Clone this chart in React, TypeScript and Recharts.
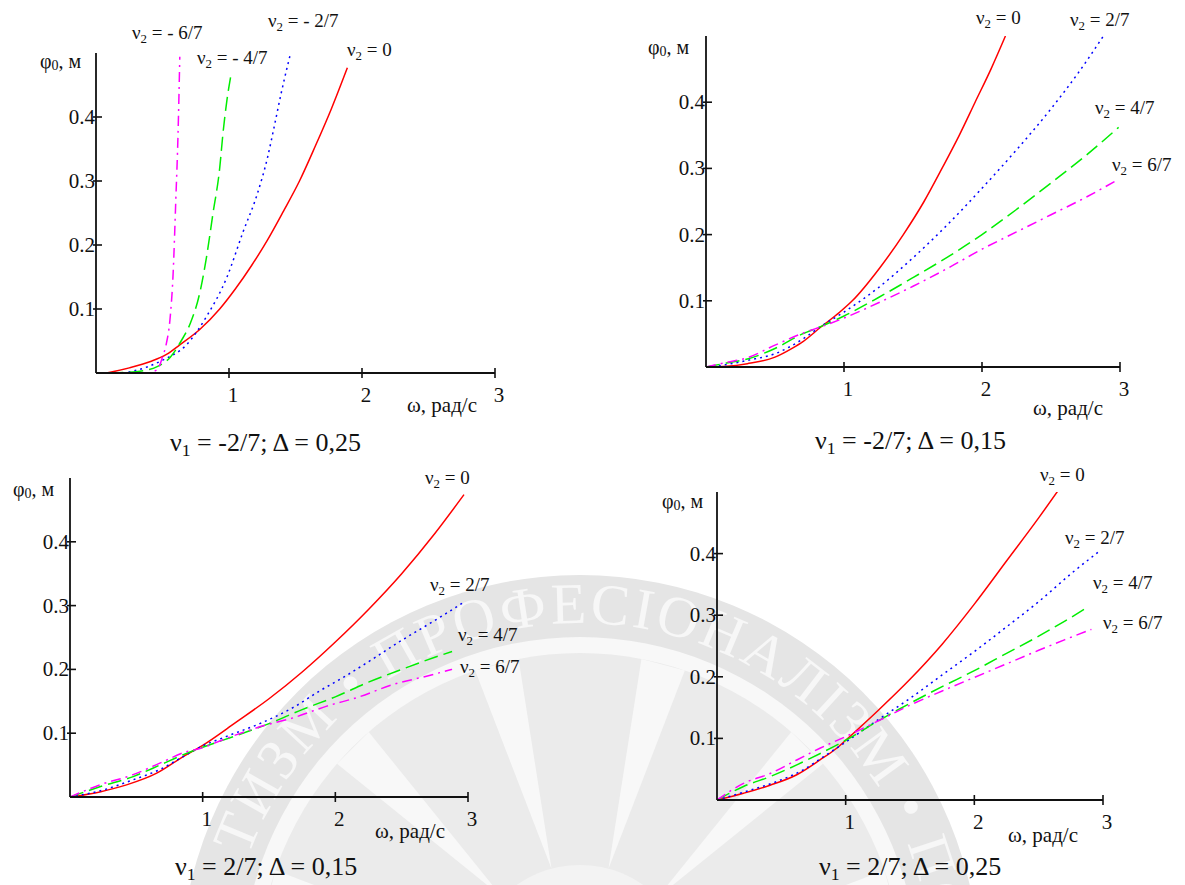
import { LineChart, Line, XAxis, YAxis } from 'recharts'

// each curve is a list of [ω, φ0] pairs

// ν1 = -2/7; Δ = 0,25
const a1Nu0 = [[0.08, 0], [0.25, 0.008], [0.41, 0.018], [0.53, 0.029], [0.63, 0.044], [0.78, 0.068], [0.93, 0.1], [1.05, 0.132], [1.17, 0.168], [1.29, 0.208], [1.41, 0.253], [1.53, 0.3], [1.65, 0.355], [1.77, 0.413], [1.89, 0.477]]
const a1Nu2 = [[0.2, 0], [0.28, 0.003], [0.5, 0.02], [0.68, 0.044], [0.83, 0.088], [0.985, 0.15], [1.105, 0.22], [1.21, 0.278], [1.29, 0.337], [1.34, 0.385], [1.39, 0.435], [1.44, 0.48], [1.46, 0.497]]
const a1Nu4 = [[0.1, 0], [0.3, 0.002], [0.46, 0.01], [0.56, 0.025], [0.64, 0.05], [0.71, 0.078], [0.78, 0.125], [0.83, 0.18], [0.88, 0.25], [0.93, 0.32], [0.955, 0.375], [0.985, 0.427], [1.015, 0.466]]
const a1Nu6 = [[0, 0], [0.38, 0], [0.46, 0.005], [0.5, 0.025], [0.53, 0.047], [0.556, 0.083], [0.58, 0.156], [0.6, 0.27], [0.617, 0.375], [0.63, 0.494]]

// ν1 = -2/7; Δ = 0,15
const a2Nu0 = [[0, 0], [0.15, 0.001], [0.3, 0.005], [0.5, 0.015], [0.63, 0.029], [0.7, 0.038], [0.83, 0.06], [0.97, 0.083], [1.06, 0.1], [1.26, 0.15], [1.43, 0.2], [1.58, 0.25], [1.71, 0.3], [1.835, 0.35], [1.95, 0.4], [2.065, 0.45], [2.17, 0.5]]
const a2Nu2 = [[0.05, 0], [0.3, 0.01], [0.5, 0.02], [0.7, 0.042], [0.83, 0.061], [1.0, 0.083], [1.25, 0.12], [1.5, 0.165], [1.75, 0.215], [2.0, 0.27], [2.25, 0.328], [2.5, 0.39], [2.7, 0.445], [2.88, 0.5]]
const a2Nu4 = [[0, 0], [0.15, 0.006], [0.3, 0.012], [0.5, 0.028], [0.7, 0.05], [0.83, 0.061], [1.0, 0.077], [1.25, 0.105], [1.5, 0.135], [1.75, 0.166], [2.0, 0.2], [2.25, 0.238], [2.5, 0.278], [2.75, 0.319], [2.99, 0.362]]
const a2Nu6 = [[0, 0], [0.15, 0.007], [0.3, 0.014], [0.5, 0.033], [0.7, 0.051], [0.85, 0.062], [1.0, 0.074], [1.25, 0.097], [1.5, 0.122], [1.75, 0.149], [2.0, 0.178], [2.25, 0.204], [2.5, 0.23], [2.75, 0.256], [2.96, 0.28]]

// ν1 = 2/7; Δ = 0,15
const b1Nu0 = [[0, 0], [0.225, 0.008], [0.426, 0.019], [0.65, 0.037], [0.85, 0.063], [1.0, 0.081], [1.25, 0.117], [1.5, 0.154], [1.75, 0.196], [2.0, 0.243], [2.25, 0.294], [2.5, 0.35], [2.75, 0.413], [2.97, 0.474]]
const b1Nu2 = [[0, 0], [0.25, 0.011], [0.476, 0.027], [0.677, 0.043], [0.85, 0.063], [0.98, 0.078], [1.18, 0.095], [1.43, 0.115], [1.68, 0.14], [1.88, 0.166], [2.08, 0.19], [2.28, 0.216], [2.48, 0.243], [2.68, 0.268], [2.83, 0.287], [2.98, 0.307]]
const b1Nu4 = [[0, 0], [0.225, 0.016], [0.476, 0.032], [0.677, 0.05], [0.85, 0.066], [1.0, 0.078], [1.25, 0.096], [1.5, 0.115], [1.75, 0.137], [2.0, 0.157], [2.25, 0.18], [2.5, 0.2], [2.75, 0.219], [2.88, 0.228]]
const b1Nu6 = [[0, 0], [0.225, 0.019], [0.476, 0.035], [0.677, 0.053], [0.877, 0.071], [0.98, 0.076], [1.18, 0.092], [1.43, 0.11], [1.68, 0.124], [1.93, 0.142], [2.18, 0.157], [2.43, 0.176], [2.68, 0.189], [2.88, 0.2]]

// ν1 = 2/7; Δ = 0,25
const b2Nu0 = [[0, 0], [0.206, 0.011], [0.413, 0.024], [0.62, 0.041], [0.8, 0.065], [0.93, 0.084], [1.0, 0.097], [1.25, 0.145], [1.5, 0.196], [1.75, 0.253], [2.0, 0.318], [2.25, 0.388], [2.5, 0.458], [2.65, 0.502]]
const b2Nu2 = [[0, 0], [0.258, 0.016], [0.465, 0.03], [0.67, 0.049], [0.826, 0.07], [1.0, 0.094], [1.25, 0.13], [1.5, 0.165], [1.75, 0.203], [2.0, 0.241], [2.25, 0.281], [2.5, 0.322], [2.75, 0.367], [2.96, 0.402]]
const b2Nu4 = [[0, 0], [0.206, 0.022], [0.413, 0.038], [0.62, 0.057], [0.826, 0.078], [1.0, 0.097], [1.25, 0.128], [1.5, 0.157], [1.75, 0.184], [2.0, 0.21], [2.25, 0.238], [2.5, 0.266], [2.7, 0.29], [2.88, 0.313]]
const b2Nu6 = [[0, 0], [0.206, 0.027], [0.413, 0.043], [0.62, 0.065], [0.8, 0.084], [1.0, 0.103], [1.25, 0.128], [1.5, 0.154], [1.75, 0.177], [2.0, 0.199], [2.25, 0.221], [2.5, 0.243], [2.7, 0.26], [2.91, 0.277]]

const xTicks = [1, 2, 3]
const yTicks = [0.1, 0.2, 0.3, 0.4]

const serif = "'Liberation Serif', 'Times New Roman', serif"

// line look per ν2 value, like the Mathcad traces
const traces = {
  zero: { color: '#ff0000', dash: undefined },
  two: { color: '#0000ff', dash: '2 4' },
  four: { color: '#00ee00', dash: '14 6' },
  six: { color: '#ff00ff', dash: '10 5 2 5' },
}

const pts = (a: number[][]) => a.map(([x, y]) => ({ x, y }))

function XTick({ x, y, payload }: any) {
  return (
    <g>
      <line x1={x} x2={x} y1={y - 5} y2={y + 5} stroke="#111" strokeWidth={1.6} />
      <text x={x + 4} y={y + 29} textAnchor="middle" fontFamily={serif} fontSize={21} fill="#111">
        {payload.value}
      </text>
    </g>
  )
}

function YTick({ x, y, payload }: any) {
  return (
    <g>
      <line x1={x - 3} x2={x + 6} y1={y} y2={y} stroke="#111" strokeWidth={1.6} />
      <text x={x - 1} y={y + 7} textAnchor="end" fontFamily={serif} fontSize={21} fill="#111">
        {Number(payload.value).toFixed(1)}
      </text>
    </g>
  )
}

// ν with a subscript, as in the figure
function Nu({ x, y, sub, rest, size = 19 }: { x: number; y: number; sub: string; rest: string; size?: number }) {
  return (
    <text x={x} y={y} fontFamily={serif} fontSize={size} fill="#111">
      ν
      <tspan fontSize={size * 0.68} dy={size * 0.19}>{sub}</tspan>
      <tspan dy={-size * 0.19}>{rest}</tspan>
    </text>
  )
}

const panels = [
  {
    box: { left: 96, right: 495, top: 53, bottom: 373 },
    curves: [
      { data: a1Nu0, ...traces.zero },
      { data: a1Nu2, ...traces.two },
      { data: a1Nu4, ...traces.four },
      { data: a1Nu6, ...traces.six },
    ],
    labels: [
      { x: 132, y: 39, rest: ' = - 6/7' },
      { x: 197, y: 64, rest: ' = - 4/7' },
      { x: 268, y: 27, rest: ' = - 2/7' },
      { x: 347, y: 56, rest: ' = 0' },
    ],
    phi: [40, 68],
    omega: [407, 412],
    caption: { x: 170, y: 451, text: ' = -2/7; Δ = 0,25' },
  },
  {
    box: { left: 706, right: 1120, top: 36, bottom: 367 },
    curves: [
      { data: a2Nu0, ...traces.zero },
      { data: a2Nu2, ...traces.two },
      { data: a2Nu4, ...traces.four },
      { data: a2Nu6, ...traces.six },
    ],
    labels: [
      { x: 976, y: 24, rest: ' = 0' },
      { x: 1070, y: 26, rest: ' = 2/7' },
      { x: 1095, y: 114, rest: ' = 4/7' },
      { x: 1112, y: 171, rest: ' = 6/7' },
    ],
    phi: [648, 54],
    omega: [1033, 415],
    caption: { x: 815, y: 449, text: ' = -2/7; Δ = 0,15' },
  },
  {
    box: { left: 70, right: 468, top: 478, bottom: 797 },
    curves: [
      { data: b1Nu0, ...traces.zero },
      { data: b1Nu2, ...traces.two },
      { data: b1Nu4, ...traces.four },
      { data: b1Nu6, ...traces.six },
    ],
    labels: [
      { x: 425, y: 484, rest: ' = 0' },
      { x: 430, y: 591, rest: ' = 2/7' },
      { x: 458, y: 641, rest: ' = 4/7' },
      { x: 460, y: 673, rest: ' = 6/7' },
    ],
    phi: [13, 496],
    omega: [375, 838],
    caption: { x: 175, y: 875, text: ' = 2/7; Δ = 0,15' },
  },
  {
    box: { left: 717, right: 1103, top: 492, bottom: 800 },
    curves: [
      { data: b2Nu0, ...traces.zero },
      { data: b2Nu2, ...traces.two },
      { data: b2Nu4, ...traces.four },
      { data: b2Nu6, ...traces.six },
    ],
    labels: [
      { x: 1040, y: 481, rest: ' = 0' },
      { x: 1065, y: 544, rest: ' = 2/7' },
      { x: 1093, y: 589, rest: ' = 4/7' },
      { x: 1103, y: 629, rest: ' = 6/7' },
    ],
    phi: [662, 508],
    omega: [1008, 842],
    caption: { x: 819, y: 875, text: ' = 2/7; Δ = 0,25' },
  },
]

function Panel({ box, curves }: { box: { left: number; right: number; top: number; bottom: number }; curves: any[] }) {
  const width = box.right - box.left + 70
  const height = box.bottom - box.top + 50
  const axisStyle = { stroke: '#111', strokeWidth: 1.8 }
  return (
    <div style={{ position: 'absolute', left: box.left - 60, top: box.top - 10 }}>
      <LineChart width={width} height={height} margin={{ top: 10, right: 10, bottom: 0, left: 0 }}>
        <XAxis
          type="number"
          dataKey="x"
          domain={[0, 3]}
          ticks={xTicks}
          height={40}
          tickSize={0}
          tickMargin={0}
          tickLine={false}
          axisLine={axisStyle}
          tick={(p: any) => <XTick {...p} />}
          allowDataOverflow
        />
        <YAxis
          type="number"
          dataKey="y"
          domain={[0, 0.5]}
          ticks={yTicks}
          width={60}
          tickSize={0}
          tickMargin={0}
          tickLine={false}
          axisLine={axisStyle}
          tick={(p: any) => <YTick {...p} />}
          allowDataOverflow
        />
        {curves.map((c, i) => (
          <Line
            key={i}
            data={pts(c.data)}
            dataKey="y"
            type="monotone"
            stroke={c.color}
            strokeWidth={1.5}
            strokeDasharray={c.dash}
            dot={false}
            activeDot={false}
            isAnimationActive={false}
          />
        ))}
      </LineChart>
    </div>
  )
}

// faint round emblem showing through the lower half of the scan
function Watermark() {
  const cx = 580
  const cy = 975
  const r = 352
  const rays = Array.from({ length: 12 }, (_, i) => i * 30 + 15)
  const at = (deg: number, rad: number) =>
    `${cx + rad * Math.sin((deg * Math.PI) / 180)},${cy - rad * Math.cos((deg * Math.PI) / 180)}`
  return (
    <svg width={1185} height={885} style={{ position: 'absolute', left: 0, top: 0 }}>
      <defs>
        <path id="ring" d={`M ${cx - r} ${cy} A ${r} ${r} 0 1 1 ${cx + r} ${cy} A ${r} ${r} 0 1 1 ${cx - r} ${cy}`} />
      </defs>
      <circle cx={cx} cy={cy} r={400} fill="#e5e5e5" />
      <circle cx={cx} cy={cy} r={338} fill="#f8f8f8" />
      <circle cx={cx} cy={cy} r={322} fill="#ebebeb" />
      {rays.map((a) => (
        <polygon key={a} points={`${at(a, 110)} ${at(a - 4, 322)} ${at(a + 4, 322)}`} fill="#f8f8f8" />
      ))}
      <circle cx={cx} cy={cy} r={110} fill="#f3f3f3" />
      <text fontFamily={serif} fontSize={58} fill="#f7f7f7" letterSpacing={3}>
        <textPath href="#ring" startOffset="27.5%" textAnchor="middle">
          ТИЗМ • ПРОФЕСІОНАЛІЗМ • ПОР
        </textPath>
      </text>
    </svg>
  )
}

export default function App() {
  return (
    <div style={{ position: 'absolute', left: 0, top: 0, width: 1185, height: 885, background: '#fff', overflow: 'hidden' }}>
      <Watermark />
      {panels.map((p, i) => (
        <Panel key={i} box={p.box} curves={p.curves} />
      ))}
      <svg width={1185} height={885} style={{ position: 'absolute', left: 0, top: 0, pointerEvents: 'none' }}>
        {panels.map((p, i) => (
          <g key={i}>
            {p.labels.map((l, j) => (
              <Nu key={j} x={l.x} y={l.y} sub="2" rest={l.rest} />
            ))}
            <text x={p.phi[0]} y={p.phi[1]} fontFamily={serif} fontSize={20} fill="#111">
              φ<tspan fontSize={14} dy={2}>0</tspan>
              <tspan dy={-2}>, м</tspan>
            </text>
            <text x={p.omega[0]} y={p.omega[1]} fontFamily={serif} fontSize={21} fill="#111">
              ω, рад/с
            </text>
            <Nu x={p.caption.x} y={p.caption.y} sub="1" rest={p.caption.text} size={26} />
          </g>
        ))}
      </svg>
    </div>
  )
}
